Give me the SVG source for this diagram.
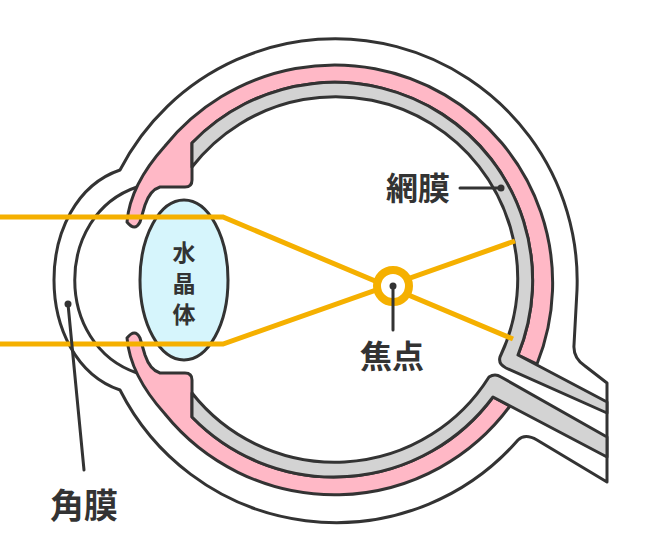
<svg xmlns="http://www.w3.org/2000/svg" width="656" height="560" viewBox="0 0 656 560">
<style>
.ln{stroke:#333;stroke-width:3;stroke-linejoin:round;stroke-linecap:round}
.ray{fill:none;stroke:#f5b000;stroke-width:5;stroke-linejoin:miter}
.lbl{font-family:"Noto Sans CJK JP",sans-serif;fill:#333;font-weight:700}
</style>
<rect width="656" height="560" fill="#fff"/>
<g id="sclera">
<path class="ln" fill="#fff" d="M120,170 A242 242 0 0 1 577,290 L574,345 Q573,358 585,366 L607,383 L607,482 L537,440 Q525,433 518,440 A242 242 0 0 1 120,390 C32,360 32,200 120,170 Z"/>
<path class="ln" fill="none" d="M137,187 C54,215 54,345 137,373"/>
</g>
<g id="choroid">
<path class="ln" fill="#ffb8c6" d="M127,222 Q130,185 165,146 A218 218 0 0 1 537,364 L518,355 A198 198 0 0 0 192,143 L192,180 Q192,187 185,187 L160,187 Q150,190 145,205 L140,222 Q135,232 127,222 Z"/>
<path class="ln" fill="#ffb8c6" d="M127,338 Q130,375 165,414 A218 218 0 0 0 510,406 L493,397 A198 198 0 0 1 192,417 L192,380 Q192,373 185,373 L160,373 Q150,370 145,355 L140,338 Q135,328 127,338 Z"/>
</g>
<g id="retina">
<path class="ln" fill="#d3d3d3" d="M192,143 A198 198 0 0 1 518,355 L607,402 L607,413 L506,368 Q498,364 500,357 A182 182 0 0 0 192,167 Z"/>
<path class="ln" fill="#d3d3d3" d="M192,393 A182 182 0 0 0 489,377 Q495,373 501,377 L607,437 L607,457 L493,397 A198 198 0 0 1 192,417 Z"/>
</g>
<g id="lens">
<ellipse class="ln" cx="184" cy="280" rx="44" ry="80" fill="#d6f5fc"/>
<text class="lbl" font-size="23" font-weight="500" text-anchor="middle" x="184" y="261">水</text>
<text class="lbl" font-size="23" font-weight="500" text-anchor="middle" x="184" y="292">晶</text>
<text class="lbl" font-size="23" font-weight="500" text-anchor="middle" x="184" y="323">体</text>
</g>
<g id="connectors">
<polyline class="ray" points="0,217 223,217 513,339"/>
<polyline class="ray" points="0,344 223,344 515,241"/>
<line class="ln" x1="460" y1="188" x2="501" y2="188" stroke-width="2"/>
<circle cx="501" cy="188" r="3.5" fill="#333"/>
<line class="ln" x1="68" y1="304" x2="84" y2="470" stroke-width="2"/>
<circle cx="68" cy="304" r="3.5" fill="#333"/>
</g>
<g id="focus">
<circle cx="393" cy="286" r="16" fill="#fff" stroke="#f5b000" stroke-width="8"/>
<line class="ln" x1="393" y1="286" x2="393" y2="330" stroke-width="2"/>
<circle cx="393" cy="286" r="3.5" fill="#333"/>
<text class="lbl" font-size="32" text-anchor="middle" x="392" y="368">焦点</text>
</g>
<g id="labels">
<text class="lbl" font-size="32" x="386" y="200">網膜</text>
<text class="lbl" font-size="34" x="50" y="518">角膜</text>
</g>
</svg>
